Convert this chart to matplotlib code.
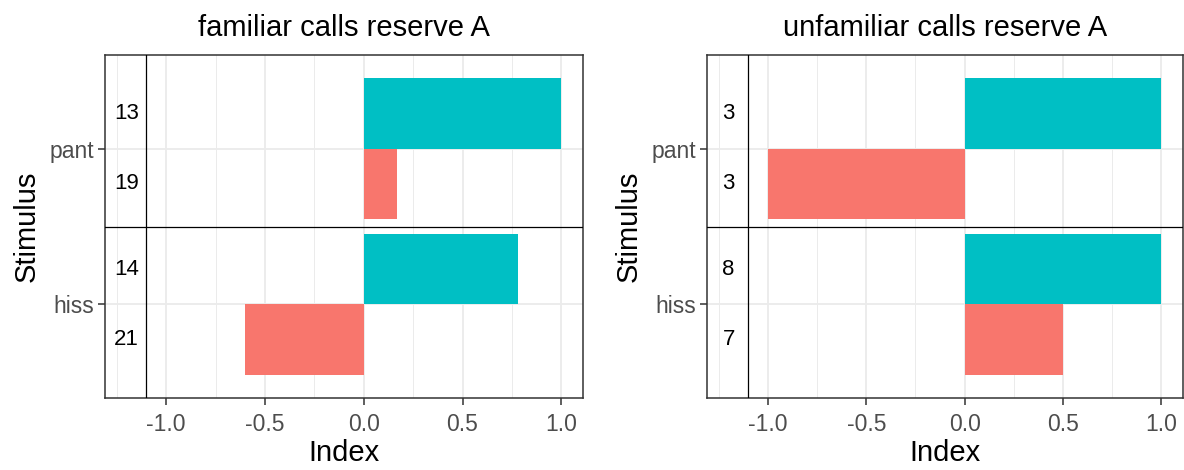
import matplotlib
matplotlib.use("Agg")
import matplotlib.pyplot as plt
from matplotlib.ticker import MultipleLocator

plt.rcParams['font.family'] = ['Liberation Sans', 'DejaVu Sans']

stimuli = ["hiss", "pant"]
titles = ["familiar calls reserve A", "unfamiliar calls reserve A"]
# per panel: values for teal (upper) and salmon (lower) bars, per stimulus (hiss, pant)
teal_vals = [[0.78, 1.0], [1.0, 1.0]]
salmon_vals = [[-0.6, 0.17], [0.5, -1.0]]
teal_n = [["14", "13"], ["8", "3"]]
salmon_n = [["21", "19"], ["7", "3"]]

TEAL = "#00BFC4"
SALMON = "#F8766D"

W, H = 1184, 470
fig = plt.figure(figsize=(W / 100, H / 100), dpi=100)

panels_px = [(105, 55, 583, 398), (707, 55, 1183, 398)]

for p, (x0, y0, x1, y1) in enumerate(panels_px):
    ax = fig.add_axes([x0 / W, (H - y1) / H, (x1 - x0) / W, (y1 - y0) / H])
    ypos = list(range(1, len(stimuli) + 1))
    ax.barh([y + 0.225 for y in ypos], teal_vals[p], height=0.45, color=TEAL, zorder=3)
    ax.barh([y - 0.225 for y in ypos], salmon_vals[p], height=0.45, color=SALMON, zorder=3)
    for i, y in enumerate(ypos):
        ax.text(-1.2, y + 0.225, teal_n[p][i], ha="center", va="center", fontsize=16, color="black", zorder=4)
        ax.text(-1.2, y - 0.225, salmon_n[p][i], ha="center", va="center", fontsize=16, color="black", zorder=4)
    ax.axvline(-1.1, color="black", lw=0.9, zorder=4)
    ax.axhline(1.5, color="black", lw=0.9, zorder=4)

    ax.set_xlim(-1.31, 1.11)
    ax.set_ylim(0.4, 2.6)
    ax.xaxis.set_minor_locator(MultipleLocator(0.25))
    ax.set_xticks([-1.0, -0.5, 0.0, 0.5, 1.0])
    ax.set_xticklabels(["-1.0", "-0.5", "0.0", "0.5", "1.0"])
    ax.set_yticks(ypos)
    ax.set_yticklabels(stimuli)
    ax.grid(which="major", color="#EBEBEB", lw=1.3, zorder=0)
    ax.grid(which="minor", axis="x", color="#EBEBEB", lw=0.7, zorder=0)
    ax.set_axisbelow(True)
    ax.tick_params(which="major", length=5, width=1.1, color="#333333",
                   labelsize=16.5, labelcolor="#4D4D4D")
    ax.tick_params(axis="x", which="major", pad=6)
    ax.tick_params(axis="y", which="major", pad=3)
    ax.tick_params(which="minor", length=0)
    for s in ax.spines.values():
        s.set_color("#333333")
        s.set_linewidth(1.1)
    ax.set_xlabel("Index", fontsize=21, labelpad=2)
    ax.set_ylabel("Stimulus", fontsize=21, labelpad=6)
    ax.set_title(titles[p], fontsize=21, pad=14)

fig.savefig("out.png", dpi=100)
